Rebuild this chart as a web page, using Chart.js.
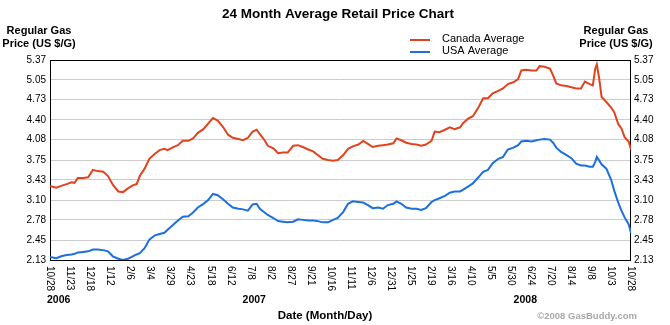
<!DOCTYPE html>
<html>
<head>
<meta charset="utf-8">
<script src="https://cdn.jsdelivr.net/npm/chart.js@4/dist/chart.umd.min.js"></script>
<style>
  html, body { margin: 0; padding: 0; background: #fff; }
</style>
</head>
<body>
<canvas id="chart" width="670" height="325"></canvas>
<script>
// 24 months, 10/28/2006 .. 10/28/2008, in days
const spanDays = 731;

const tickLabels = ["10/28", "11/23", "12/18", "1/12", "2/6", "3/4", "3/29", "4/23", "5/18", "6/12",
  "7/8", "8/2", "8/27", "9/21", "10/16", "11/11", "12/6", "12/31", "1/25", "2/19",
  "3/16", "4/10", "5/5", "5/30", "6/24", "7/20", "8/14", "9/8", "10/3", "10/28"];
const yTicks = [2.13, 2.45, 2.78, 3.10, 3.43, 3.75, 4.08, 4.40, 4.73, 5.05, 5.37];
const years = ["2006", "2007", "2008"];
const yearDays = [0, 257, 598];

const dayOffsets = [
  0, 8, 14, 21, 27, 31, 35, 42, 48, 54, 60, 67, 73, 79, 86, 92, 98, 104, 109, 113, 119, 125, 132, 138, 144, 148, 155, 161, 167, 174, 180,
  186, 193, 199, 205, 211, 218, 224, 230, 237, 243, 249, 255, 260, 264, 270, 274, 281, 287, 293, 299, 306, 312, 318, 325, 331, 337, 343, 350, 356, 362,
  369, 375, 381, 388, 394, 400, 406, 413, 419, 425, 432, 436, 442, 448, 455, 461, 467, 473, 480, 484, 490, 497, 503, 509, 516, 520, 526, 532, 539, 545,
  551, 557, 564, 570, 576, 583, 589, 593, 599, 606, 612, 616, 622, 629, 633, 637, 643, 650, 656, 662, 668, 673, 679, 683, 686, 688, 691, 694, 700, 706, 710, 715, 719, 723, 728, 731
];
const canadaAvg = [
  3.33, 3.30, 3.33, 3.36, 3.39, 3.38, 3.46, 3.46, 3.47, 3.59, 3.57, 3.56, 3.49, 3.35, 3.24, 3.23, 3.29, 3.34, 3.36, 3.49, 3.61, 3.77, 3.85, 3.91, 3.93, 3.91, 3.96, 3.99, 4.06, 4.06, 4.10,
  4.19, 4.25, 4.34, 4.43, 4.39, 4.28, 4.16, 4.11, 4.09, 4.07, 4.11, 4.21, 4.24, 4.17, 4.07, 3.98, 3.94, 3.86, 3.87, 3.87, 3.98, 3.99, 3.96, 3.92, 3.89, 3.83, 3.77, 3.75, 3.74, 3.75,
  3.83, 3.93, 3.97, 4.00, 4.06, 4.01, 3.96, 3.98, 3.99, 4.00, 4.02, 4.10, 4.07, 4.03, 4.01, 4.00, 3.98, 4.00, 4.06, 4.21, 4.20, 4.24, 4.28, 4.25, 4.28, 4.35, 4.42, 4.46, 4.60, 4.75,
  4.75, 4.83, 4.87, 4.91, 4.98, 5.01, 5.06, 5.20, 5.21, 5.20, 5.20, 5.27, 5.26, 5.23, 5.12, 4.99, 4.96, 4.95, 4.93, 4.91, 4.91, 5.02, 4.98, 4.96, 5.23, 5.30, 5.07, 4.77, 4.69, 4.60, 4.52, 4.33, 4.26, 4.12, 4.05, 3.92
];
const usaAvg = [
  2.18, 2.16, 2.19, 2.21, 2.22, 2.23, 2.25, 2.26, 2.27, 2.30, 2.30, 2.29, 2.27, 2.19, 2.15, 2.13, 2.15, 2.19, 2.22, 2.24, 2.32, 2.46, 2.53, 2.55, 2.57, 2.62, 2.70, 2.77, 2.83, 2.84, 2.90,
  2.98, 3.04, 3.10, 3.20, 3.18, 3.11, 3.04, 2.98, 2.96, 2.95, 2.93, 3.03, 3.04, 2.96, 2.90, 2.86, 2.81, 2.76, 2.75, 2.74, 2.75, 2.79, 2.78, 2.77, 2.77, 2.76, 2.74, 2.74, 2.78, 2.81,
  2.91, 3.04, 3.08, 3.07, 3.06, 3.02, 2.97, 2.98, 2.96, 3.02, 3.04, 3.08, 3.04, 2.98, 2.96, 2.96, 2.94, 2.97, 3.07, 3.10, 3.13, 3.17, 3.22, 3.24, 3.24, 3.27, 3.32, 3.37, 3.47, 3.56,
  3.59, 3.70, 3.77, 3.80, 3.92, 3.95, 3.99, 4.05, 4.06, 4.05, 4.07, 4.08, 4.09, 4.08, 4.03, 3.95, 3.88, 3.83, 3.78, 3.69, 3.66, 3.66, 3.64, 3.64, 3.72, 3.80, 3.74, 3.68, 3.61, 3.43, 3.25, 3.06, 2.93, 2.82, 2.71, 2.57
];

const RED = "#e2431e";
const BLUE = "#1c6fde";
const FONT = "'Liberation Sans', Arial, sans-serif";

function tickDay(i) {
  return i * spanDays / (tickLabels.length - 1);
}

const decor = {
  id: "decor",
  beforeDatasetsDraw(chart) {
    const ctx = chart.ctx;
    const a = chart.chartArea;
    ctx.save();
    ctx.strokeStyle = "#000";
    ctx.lineWidth = 1;
    ctx.strokeRect(a.left + 0.5, a.top + 0.5, a.right - a.left - 1, a.bottom - a.top);
    ctx.restore();
  },
  afterDraw(chart) {
    const ctx = chart.ctx;
    const xs = chart.scales.x;
    ctx.save();
    ctx.fillStyle = "#000";

    // title
    ctx.font = "bold 13.5px " + FONT;
    ctx.textAlign = "center";
    ctx.textBaseline = "middle";
    ctx.fillText("24 Month Average Retail Price Chart", 338, 14);

    // axis titles both sides
    ctx.font = "bold 11px " + FONT;
    ["Regular Gas", "Price (US $/G)"].forEach((t, i) => {
      ctx.fillText(t, 39, 31 + i * 13);
      ctx.fillText(t, 616, 31 + i * 13);
    });

    // legend
    ctx.font = "11px " + FONT;
    ctx.textAlign = "left";
    [["Canada Average", RED], ["USA Average", BLUE]].forEach((item, i) => {
      const y = 39 + i * 12;
      ctx.strokeStyle = item[1];
      ctx.lineWidth = 2;
      ctx.beginPath();
      ctx.moveTo(410, y + 1);
      ctx.lineTo(430, y + 1);
      ctx.stroke();
      ctx.fillText(item[0], 442, y);
    });

    // rotated date ticks
    ctx.font = "10px " + FONT;
    tickLabels.forEach((t, i) => {
      const x = xs.getPixelForValue(tickDay(i));
      ctx.save();
      ctx.translate(x, 266);
      ctx.rotate(Math.PI / 2);
      ctx.textAlign = "left";
      ctx.textBaseline = "middle";
      ctx.fillText(t, 0, 0);
      ctx.restore();
    });

    // years
    ctx.font = "bold 10.5px " + FONT;
    years.forEach((y, i) => {
      const x = xs.getPixelForValue(yearDays[i]);
      ctx.textAlign = i === 0 ? "left" : "center";
      ctx.fillText(y, i === 0 ? x - 3 : x, 300);
    });

    ctx.font = "bold 11.5px " + FONT;
    ctx.textAlign = "center";
    ctx.fillText("Date (Month/Day)", 325, 316);

    ctx.font = "bold 9.5px " + FONT;
    ctx.fillStyle = "#a8a8a8";
    ctx.textAlign = "right";
    ctx.fillText("\u00a92008 GasBuddy.com", 637, 316);
    ctx.restore();
  }
};

function yAxis(position, width, pad) {
  return {
    position: position,
    min: 2.13,
    max: 5.37,
    afterBuildTicks: s => { s.ticks = yTicks.map(v => ({ value: v })); },
    afterFit: s => { s.width = width; },
    ticks: {
      callback: v => v.toFixed(2),
      font: { family: FONT, size: 10 },
      color: "#000",
      padding: pad
    },
    grid: { display: position === "left", color: "#cccccc", drawTicks: false },
    border: { display: false }
  };
}

new Chart(document.getElementById("chart"), {
  type: "line",
  data: {
    datasets: [
      {
        label: "Canada Average",
        data: dayOffsets.map((d, i) => ({ x: d, y: canadaAvg[i] })),
        borderColor: RED,
        borderWidth: 2,
        pointRadius: 0,
        tension: 0
      },
      {
        label: "USA Average",
        data: dayOffsets.map((d, i) => ({ x: d, y: usaAvg[i] })),
        borderColor: BLUE,
        borderWidth: 2,
        pointRadius: 0,
        tension: 0
      }
    ]
  },
  options: {
    responsive: false,
    animation: false,
    devicePixelRatio: 1,
    layout: { padding: { top: 60 } },
    plugins: {
      legend: { display: false },
      title: { display: false },
      tooltip: { enabled: false }
    },
    scales: {
      x: {
        type: "linear",
        min: 0,
        max: spanDays,
        afterBuildTicks: s => { s.ticks = tickLabels.map((t, i) => ({ value: tickDay(i) })); },
        afterFit: s => { s.height = 65; },
        ticks: { display: false },
        grid: { display: false, drawTicks: false },
        border: { display: false }
      },
      y: yAxis("left", 50, 4),
      y2: yAxis("right", 39, 3)
    }
  },
  plugins: [decor]
});
</script>
</body>
</html>
